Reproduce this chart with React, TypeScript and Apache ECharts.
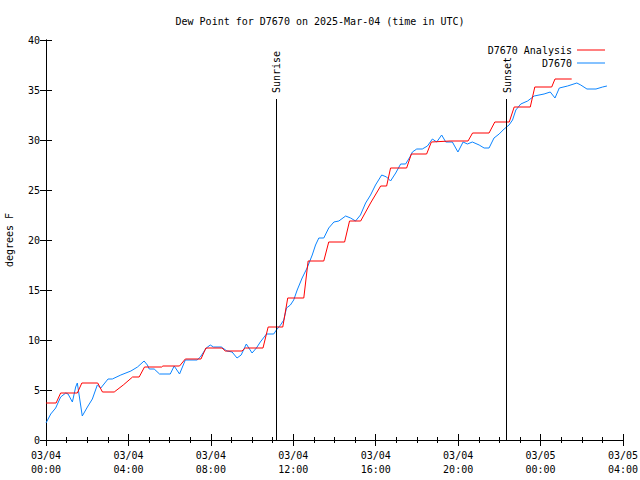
import React, { useEffect, useRef } from "react";
import * as echarts from "echarts";

const titleText = "Dew Point for D7670 on 2025-Mar-04 (time in UTC)";
const analysisName = "D7670 Analysis";
const obsName = "D7670";

const dateLabels = ["03/04", "03/04", "03/04", "03/04", "03/04", "03/04", "03/05", "03/05"];
const timeLabels = ["00:00", "04:00", "08:00", "12:00", "16:00", "20:00", "00:00", "04:00"];

const redHours = [0.0, 0.49, 0.71, 1.52, 1.74, 2.51, 2.74, 3.31, 3.75, 4.2, 4.52, 4.78, 5.62, 5.67, 6.48, 6.76, 7.52, 7.76, 8.54, 8.7, 9.51, 9.67, 10.53, 10.78, 11.49, 11.73, 12.51, 12.72, 13.48, 13.72, 14.49, 14.73, 15.27, 15.75, 16.24, 16.53, 16.72, 17.5, 17.73, 18.47, 18.7, 19.61, 20.48, 20.7, 21.5, 21.78, 22.48, 22.72, 23.5, 23.72, 24.54, 24.7, 25.51];
const redValues = [3.7, 3.7, 4.7, 4.7, 5.7, 5.7, 4.8, 4.8, 5.5, 6.3, 6.3, 7.3, 7.3, 7.4, 7.4, 8.1, 8.1, 9.2, 9.2, 8.9, 8.9, 9.2, 9.2, 11.3, 11.3, 14.2, 14.2, 17.9, 17.9, 19.8, 19.8, 21.9, 21.9, 23.7, 25.4, 25.4, 27.2, 27.2, 28.6, 28.6, 29.8, 29.9, 29.9, 30.7, 30.7, 31.8, 31.8, 33.3, 33.3, 35.3, 35.3, 36.1, 36.1];

const blueHours = [0.0, 0.23, 0.47, 0.71, 0.96, 1.07, 1.28, 1.44, 1.52, 1.76, 2.01, 2.25, 2.49, 2.66, 3.01, 3.22, 3.63, 4.12, 4.44, 4.76, 4.92, 5.01, 5.25, 5.51, 6.03, 6.22, 6.48, 6.76, 7.33, 7.49, 7.78, 7.97, 8.13, 8.51, 8.78, 9.03, 9.27, 9.47, 9.72, 10.0, 10.21, 10.4, 10.7, 11.05, 11.18, 11.38, 11.54, 11.67, 11.86, 12.02, 12.19, 12.43, 12.67, 12.92, 13.08, 13.24, 13.48, 13.72, 13.97, 14.21, 14.54, 14.78, 15.02, 15.26, 15.51, 15.75, 15.99, 16.29, 16.53, 16.72, 16.97, 17.21, 17.45, 17.66, 17.78, 17.99, 18.26, 18.51, 18.75, 18.96, 19.2, 19.4, 19.72, 19.99, 20.24, 20.45, 20.69, 21.02, 21.26, 21.5, 21.74, 21.99, 22.23, 22.47, 22.64, 22.8, 23.04, 23.37, 23.69, 24.17, 24.47, 24.7, 24.91, 25.31, 25.76, 25.95, 26.25, 26.69, 27.01, 27.22];
const blueValues = [1.7, 2.6, 3.2, 4.3, 4.7, 4.6, 3.8, 5.3, 5.7, 2.4, 3.3, 4.1, 5.5, 5.2, 6.1, 6.1, 6.5, 6.9, 7.3, 7.9, 7.5, 7.1, 7.1, 6.6, 6.6, 7.4, 6.6, 8.0, 8.0, 8.3, 9.2, 9.5, 9.3, 9.3, 8.9, 8.8, 8.2, 8.5, 9.6, 8.7, 9.2, 9.8, 10.6, 10.6, 11.0, 11.5, 12.0, 13.2, 13.5, 14.0, 15.0, 16.2, 17.2, 18.5, 19.5, 20.2, 20.2, 21.2, 21.8, 21.9, 22.4, 22.2, 21.9, 22.5, 23.7, 24.5, 25.5, 26.5, 26.3, 25.9, 26.7, 27.6, 27.6, 28.3, 28.8, 29.1, 29.1, 29.4, 30.1, 29.8, 30.5, 29.8, 29.8, 28.8, 29.8, 29.6, 29.8, 29.5, 29.2, 29.2, 30.2, 30.6, 31.1, 31.5, 32.0, 33.0, 33.6, 33.9, 34.4, 34.6, 34.8, 34.2, 35.2, 35.4, 35.7, 35.5, 35.1, 35.1, 35.3, 35.4];

const sunNames = ["Sunrise", "Sunset"];
const sunHours = [11.15, 22.33];
const sunLineTop = 34.1;

const FONT = "DejaVu Sans Mono";

export default function App() {
  const ref = useRef<HTMLDivElement>(null);
  useEffect(() => {
    if (!ref.current) return;
    const chart = echarts.init(ref.current, null, { renderer: "svg" });
    const redData = redHours.map((h, i) => [h, redValues[i]]);
    const blueData = blueHours.map((h, i) => [h, blueValues[i]]);
    const axisLine = { show: true, lineStyle: { color: "#000", width: 1 } };
    const xCommon = {
      type: "value",
      min: 0,
      max: 28,
      interval: 4,
      axisLine,
      axisTick: { show: true, inside: true, length: 6, lineStyle: { color: "#000" } },
      minorTick: { show: true, splitNumber: 4, length: 3, lineStyle: { color: "#000" } },
      splitLine: { show: false },
    };
    const yCommon = {
      type: "value",
      min: 0,
      max: 40,
      interval: 5,
      axisLine,
      axisTick: { show: true, inside: true, length: 6, lineStyle: { color: "#000" } },
      splitLine: { show: false },
    };
    chart.setOption({
      animation: false,
      backgroundColor: "#fff",
      title: {
        text: titleText,
        left: "center",
        top: 11,
        textStyle: { fontFamily: FONT, fontSize: 10, fontWeight: "normal", color: "#000" },
      },
      legend: {
        data: [analysisName, obsName],
        orient: "vertical",
        right: 30,
        top: 40,
        align: "right",
        icon: "rect",
        itemWidth: 28,
        itemHeight: 1,
        itemGap: 3,
        textStyle: { fontFamily: FONT, fontSize: 10, color: "#000" },
      },
      grid: { left: 46, right: 17, top: 40, bottom: 40, containLabel: false, outerBoundsMode: "none" },
      xAxis: [
        {
          ...xCommon,
          position: "bottom",
          axisLabel: {
            show: true,
            margin: 8,
            fontFamily: FONT,
            fontSize: 10,
            color: "#000",
            lineHeight: 14,
            formatter: (v: number, i: number) => `${dateLabels[i]}\n${timeLabels[i]}`,
          },
        },
        { ...xCommon, position: "top", axisLabel: { show: false } },
      ],
      yAxis: [
        {
          ...yCommon,
          position: "left",
          name: "degrees F",
          nameLocation: "middle",
          nameRotate: 90,
          nameGap: 32,
          nameTextStyle: { fontFamily: FONT, fontSize: 10, color: "#000" },
          axisLabel: { show: true, margin: 6, fontFamily: FONT, fontSize: 10, color: "#000" },
        },
        { ...yCommon, position: "right", axisLabel: { show: false } },
      ],
      series: [
        {
          name: obsName,
          type: "line",
          data: blueData,
          showSymbol: false,
          symbol: "none",
          lineStyle: { color: "#0b84ff", width: 1 },
          itemStyle: { color: "#0b84ff" },
          markLine: {
            silent: true,
            symbol: "none",
            label: { show: false },
            lineStyle: { color: "#000", width: 1, type: "solid" },
            data: sunHours.map((h) => [{ coord: [h, 0] }, { coord: [h, sunLineTop] }]),
          },
          z: 2,
        },
        {
          name: analysisName,
          type: "line",
          data: redData,
          showSymbol: false,
          symbol: "none",
          lineStyle: { color: "#ff0000", width: 1 },
          itemStyle: { color: "#ff0000" },
          z: 3,
        },
      ],
    });
    const texts = sunHours.map((h, i) => {
      const p = chart.convertToPixel({ xAxisIndex: 0, yAxisIndex: 0 }, [h, sunLineTop]) as number[];
      return {
        type: "text",
        x: p[0] + 1,
        y: p[1] - 6,
        rotation: Math.PI / 2,
        style: {
          text: sunNames[i],
          fontFamily: FONT,
          fontSize: 10,
          fill: "#000",
          align: "left",
          verticalAlign: "middle",
        },
      };
    });
    chart.setOption({ graphic: texts });
    return () => chart.dispose();
  }, []);
  return <div ref={ref} style={{ position: "fixed", left: 0, top: 0, width: 640, height: 480 }} />;
}
